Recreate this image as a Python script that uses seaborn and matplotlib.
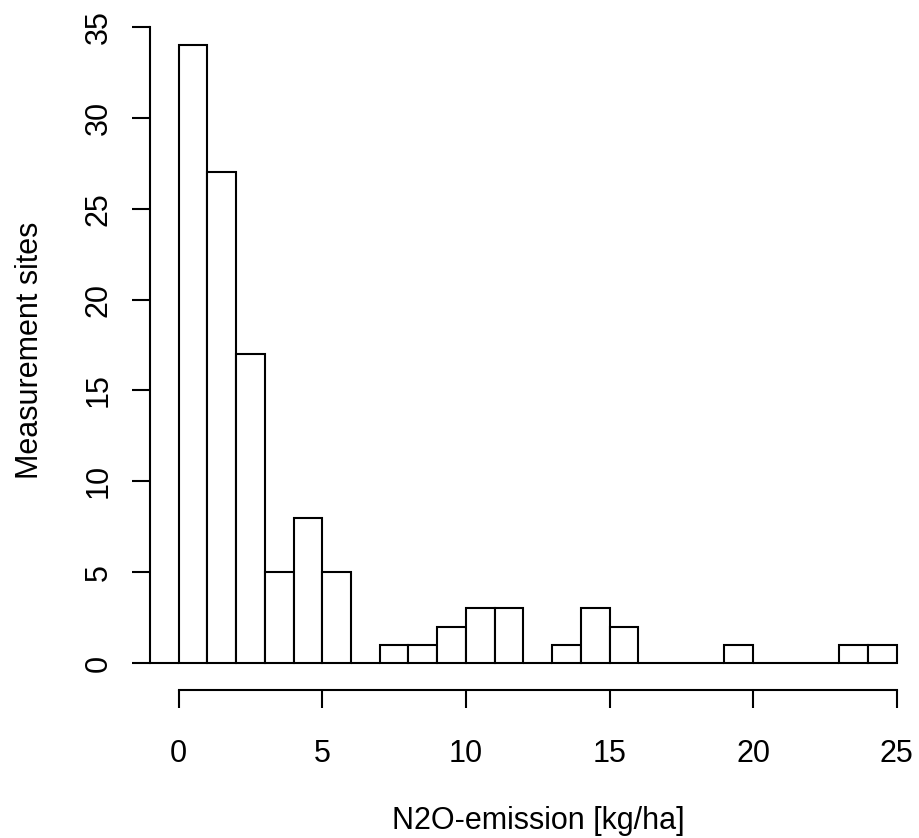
import matplotlib
matplotlib.use("Agg")
import matplotlib.pyplot as plt
import seaborn as sns
import numpy as np

# Histogram data (bin edges of width 1, counts per bin)
bin_edges = list(range(-1, 26))
counts = [0, 34, 27, 17, 5, 8, 5, 0, 1, 1, 2, 3, 3, 0, 1, 3, 2, 0, 0, 0, 1, 0, 0, 0, 1, 1]
x_ticks = [0, 5, 10, 15, 20, 25]
y_ticks = [0, 5, 10, 15, 20, 25, 30, 35]
x_label = "N2O-emission [kg/ha]"
y_label = "Measurement sites"

sns.set_style("ticks")
plt.rcParams['font.family'] = ['Liberation Sans', 'DejaVu Sans']

bin_centers = [(bin_edges[i] + bin_edges[i + 1]) / 2 for i in range(len(counts))]

W, H = 919, 838
fig = plt.figure(figsize=(W / 100, H / 100), dpi=100)
# axes placement in pixels: x=-1 -> 150px, x=26 -> ~928px ; y bottom 690px, top 20.5px
left_px, right_px = 150, 150 + 27 * 28.72
top_px, bottom_px = 20.5, 690
ax = fig.add_axes([left_px / W, 1 - bottom_px / H,
                   (right_px - left_px) / W, (bottom_px - top_px) / H])

sns.histplot(x=bin_centers, weights=counts, bins=bin_edges, ax=ax,
             color="white", edgecolor="black", linewidth=1.5, alpha=1,
             stat="count")

ax.set_xlim(-1, 26)
ax.set_ylim(-1.486, 35.36)
ax.set_xticks(x_ticks)
ax.set_yticks(y_ticks)
ax.set_xticklabels([str(v) for v in x_ticks])
ax.set_yticklabels([str(v) for v in y_ticks], rotation=90, va="center")

for s in ["top", "right"]:
    ax.spines[s].set_visible(False)
ax.spines["left"].set_bounds(0, 35)
ax.spines["bottom"].set_bounds(0, 25)
for s in ["left", "bottom"]:
    ax.spines[s].set_linewidth(1.5)
    ax.spines[s].set_color("black")

ax.tick_params(axis="both", direction="out", length=13, width=1.5,
               labelsize=22, color="black", labelcolor="black")
ax.tick_params(axis="x", pad=22)
ax.tick_params(axis="y", pad=13)

ax.set_xlabel(x_label, fontsize=22, labelpad=27, color="black")
ax.set_ylabel(y_label, fontsize=22, labelpad=28, color="black")
ax.xaxis.label.set_x((538 - left_px) / (right_px - left_px))
ax.yaxis.label.set_y((690 - 350) / (bottom_px - top_px))

ax.set_facecolor("white")
fig.patch.set_facecolor("white")
fig.savefig("out.png", dpi=100)
